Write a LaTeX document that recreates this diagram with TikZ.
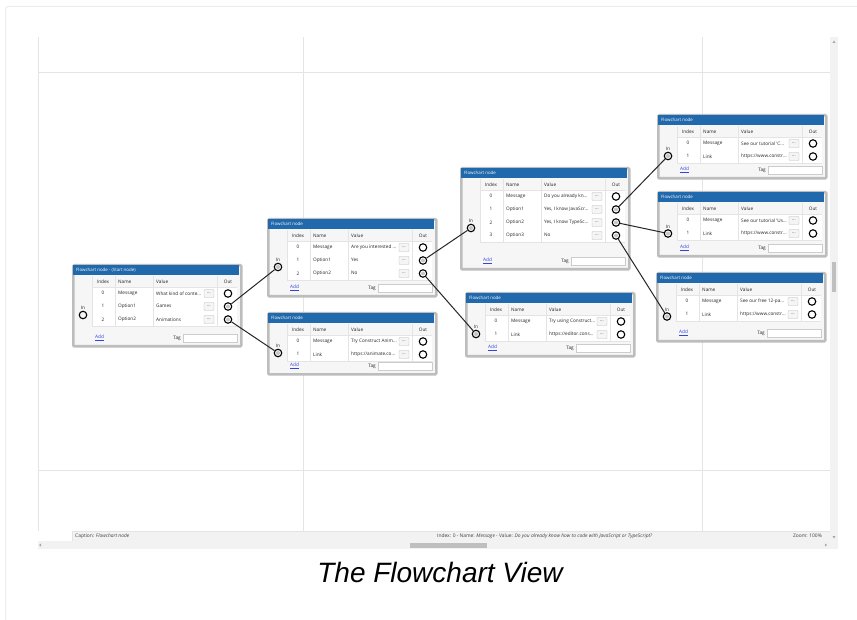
\documentclass[tikz,border=0pt]{standalone}
\usepackage{fontspec}
\setmainfont{Liberation Sans}
\newfontfamily\uifont{Open Sans}
\usepackage{tikz}
\usetikzlibrary{positioning}
\definecolor{fcblue}{HTML}{1F69AC}
\definecolor{fcframe}{HTML}{BDBDBD}
\definecolor{fcgrid}{HTML}{E4E4E4}
\definecolor{fcpanel}{HTML}{F2F2F2}
\definecolor{fclink}{HTML}{3344DD}

\tikzset{
  fcbody/.style={draw=fcframe, line width=2.6pt, fill=fcpanel!70, rounded corners=1pt,
                 anchor=north west, minimum width=168pt, inner sep=0pt},
  fctitle/.style={anchor=west, text=white, font=\uifont\fontsize{4.4}{5}\selectfont, inner sep=0pt},
  fctext/.style={font=\uifont\fontsize{4.7}{5}\selectfont, text=black!85, inner sep=0pt},
  dotbtn/.style={draw=gray!55, fill=gray!8, rounded corners=0.8pt, minimum width=10pt,
                 minimum height=8pt, inner sep=0pt, font=\uifont\fontsize{4}{4}\selectfont},
  tagbox/.style={draw=gray!40, fill=white, anchor=west, minimum width=54pt, minimum height=8pt, inner sep=0pt},
  port/.style={circle, draw=black, line width=1.1pt, minimum size=7.5pt, inner sep=0pt},
  wire/.style={draw=black!85, line width=1pt},
  status/.style={font=\uifont\fontsize{4.9}{5}\selectfont, text=black!75, inner sep=0pt},
}

% one flowchart node: id, x, top, height, title, rows
\newcommand{\fcbox}[6]{%
  \begin{scope}[shift={(#2,#3)}]
    \node[fcbody, minimum height=#4pt] (#1) at (0,0) {};
    \fill[fcblue] (1.4,1.4) rectangle (166.6,11);
    \node[fctitle] (#1-title) at (4,6.3) {#5};
    \node[fctext] at (31,17.5) {Index};
    \node[fctext, anchor=west] at (46,17.5) {Name};
    \node[fctext, anchor=west] at (84,17.5) {Value};
    \node[fctext] at (156,17.5) {Out};
    \foreach \sx in {20,43,81,145}
      \draw[fcgrid] (\sx,12) -- (\sx,23);
    \foreach \i/\n/\v in {#6} {
      \fill[white] (20,{23+13*\i}) rectangle (165,{36+13*\i});
      \draw[fcgrid] (20,{36+13*\i}) -- (165,{36+13*\i});
      \foreach \sx in {20,43,81,145}
        \draw[fcgrid] (\sx,{23+13*\i}) -- (\sx,{36+13*\i});
      \node[fctext] at (31,{29.3+13*\i}) {\i};
      \node[fctext, anchor=west] at (46,{29.3+13*\i}) {\n};
      \node[fctext, anchor=west] at (84,{29.3+13*\i}) {\v};
      \node[dotbtn] at (137,{29.5+13*\i}) {...};
      \node[port] (#1-o\i) at (156,{29.5+13*\i}) {};
    }
    \draw[fcgrid] (20,23) -- (165,23);
    \node[fctext] at (11,{(17+#4)/2-5}) {In};
    \node[port] (#1-in) at (11,{(17+#4)/2+2}) {};
    \node[fctext, anchor=west, text=fclink] at (23,{#4-7}) {\underline{Add}};
    \node[fctext, anchor=east] at (109,{#4-7}) {Tag};
    \node[tagbox] at (111,{#4-7}) {};
  \end{scope}}

\begin{document}
\begin{tikzpicture}[x=1pt, y=-1pt]
  \useasboundingbox (0,0) rectangle (857,620);
  \clip (0,0) rectangle (857,620);
  \fill[white] (0,0) rectangle (857,620);
  \draw[gray!15, line width=1pt, rounded corners=3pt] (5.5,6.5) rectangle (880,640);

  % canvas grid
  \draw[fcgrid, line width=0.8pt] (38,37) -- (38,531);
  \foreach \gx in {303,702}
    \draw[fcgrid, line width=0.8pt] (\gx,37) -- (\gx,531);
  \foreach \gy in {72,470}
    \draw[fcgrid, line width=0.8pt] (38,\gy) -- (830,\gy);

  % scroll bars and status bar
  \fill[fcpanel] (830,37) rectangle (838,541);
  \fill[gray!50] (832,262) rectangle (836,292);
  \fill[gray!70] (832.5,43) -- (835.5,43) -- (834,40.5) -- cycle;
  \fill[gray!70] (832.5,536) -- (835.5,536) -- (834,538.5) -- cycle;
  \fill[fcpanel] (72,531) rectangle (830,541);
  \draw[fcgrid] (72,541) -- (72,531) -- (830,531);
  \fill[fcpanel] (38,541) rectangle (838,549);
  \fill[gray!50] (410,542.5) rectangle (487,547.5);
  \fill[gray!70] (41,543.5) -- (41,546.5) -- (39,545) -- cycle;
  \fill[gray!70] (825,543.5) -- (825,546.5) -- (827,545) -- cycle;
  \node[status, anchor=west] (capt) at (75,536) {Caption: \textit{Flowchart node}};
  \node[status, anchor=west] (info) at (437,536)
    {Index: 0 - Name: \textit{Message} - Value: \textit{Do you already know how to code with JavaScript or TypeScript?}};
  \node[status, anchor=east] (zoom) at (822,536) {Zoom: 100\%};

  % flowchart nodes
  \fcbox{A}{72}{264}{81}{Flowchart node - (Start node)}
    {0/Message/{What kind of conte\dots},1/Option1/Games,2/Option2/Animations}
  \fcbox{B}{267}{218}{77}{Flowchart node}
    {0/Message/{Are you interested \dots},1/Option1/Yes,2/Option2/No}
  \fcbox{C}{267}{312}{61}{Flowchart node}
    {0/Message/{Try Construct Anim\dots},1/Link/{https://animate.co\dots}}
  \fcbox{D}{460}{167}{101}{Flowchart node}
    {0/Message/{Do you already kn\dots},1/Option1/{Yes, I know JavaScr\dots},2/Option2/{Yes, I know TypeSc\dots},3/Option3/No}
  \fcbox{E}{465}{292}{63}{Flowchart node}
    {0/Message/{Try using Construct\dots},1/Link/{https://editor.cons\dots}}
  \fcbox{F}{657}{114}{63}{Flowchart node}
    {0/Message/{See our tutorial 'C\dots},1/Link/{https://www.constr\dots}}
  \fcbox{G}{657}{191}{64}{Flowchart node}
    {0/Message/{See our tutorial 'Us\dots},1/Link/{https://www.constr\dots}}
  \fcbox{H}{656}{272}{68}{Flowchart node}
    {0/Message/{See our free 12-pa\dots},1/Link/{https://www.constr\dots}}

  % links
  \foreach \p in {A-o1,A-o2,B-in,B-o1,B-o2,C-in,D-in,D-o1,D-o2,D-o3,E-in,F-in,G-in,H-in}
    \fill[gray!45] (\p) circle (2pt);
  \draw[wire] (A-o1) -- (B-in);
  \draw[wire] (A-o2) -- (C-in);
  \draw[wire] (B-o1) -- (D-in);
  \draw[wire] (B-o2) -- (E-in);
  \draw[wire] (D-o1) -- (F-in);
  \draw[wire] (D-o2) -- (G-in);
  \draw[wire] (D-o3) -- (H-in);

  \node[font=\itshape\fontsize{28}{30}\selectfont, anchor=base, inner sep=0pt] (caption) at (440,582)
    {The Flowchart View};
\end{tikzpicture}
\end{document}
